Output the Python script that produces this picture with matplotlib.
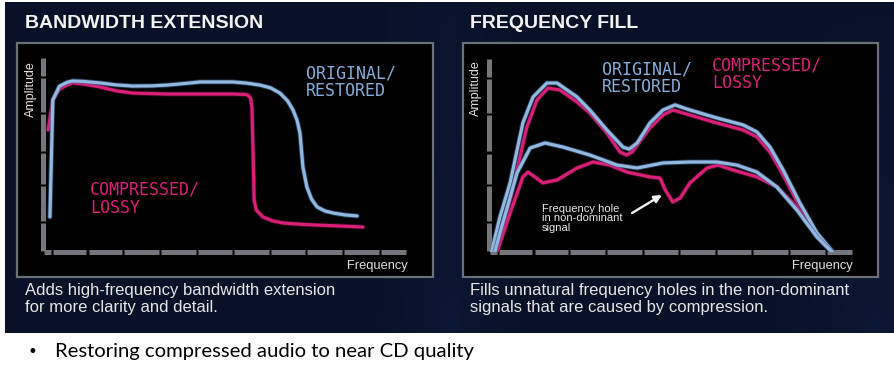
import matplotlib
matplotlib.use("Agg")
import matplotlib.pyplot as plt
import numpy as np
from matplotlib.patches import Rectangle
from matplotlib.colors import LinearSegmentedColormap
import matplotlib.patheffects as pe

# ---------------- data ----------------
# Left panel: bandwidth extension (x: frequency bands 0..10, y: amplitude 0..1)
bw_orig_x = [0.19, 0.27, 0.45, 0.66, 0.80, 1.10, 1.57, 2.00, 2.47, 3.00, 3.41, 4.00, 4.31, 5.22, 5.60, 5.96, 6.25, 6.51, 6.72, 6.87, 6.98, 7.06, 7.14, 7.25, 7.38, 7.53, 7.75, 7.97, 8.30, 8.63]
bw_orig_y = [0.18, 0.78, 0.85, 0.87, 0.877, 0.875, 0.867, 0.857, 0.851, 0.852, 0.856, 0.866, 0.872, 0.872, 0.866, 0.856, 0.842, 0.815, 0.775, 0.728, 0.675, 0.61, 0.436, 0.333, 0.27, 0.231, 0.21, 0.20, 0.19, 0.185]
bw_lossy_x = [0.14, 0.27, 0.45, 0.66, 0.80, 1.10, 1.57, 2.03, 2.47, 3.41, 4.31, 5.22, 5.55, 5.63, 5.70, 5.74, 5.77, 5.80, 5.86, 6.04, 6.30, 6.59, 7.00, 7.53, 8.20, 8.79]
bw_lossy_y = [0.626, 0.78, 0.835, 0.856, 0.867, 0.862, 0.846, 0.826, 0.815, 0.81, 0.81, 0.81, 0.808, 0.805, 0.79, 0.744, 0.523, 0.267, 0.215, 0.18, 0.16, 0.149, 0.143, 0.138, 0.133, 0.128]

# Right panel: frequency fill
ff_orig_dom_x = [0.07, 0.30, 0.58, 0.93, 1.21, 1.59, 1.87, 2.42, 2.77, 3.24, 3.68, 3.85, 4.07, 4.42, 4.78, 5.11, 5.52, 6.26, 6.98, 7.36, 7.72, 8.08, 8.54, 9.01, 9.45]
ff_orig_dom_y = [0.0, 0.18, 0.356, 0.665, 0.799, 0.871, 0.871, 0.799, 0.732, 0.629, 0.541, 0.530, 0.562, 0.665, 0.732, 0.758, 0.732, 0.691, 0.655, 0.619, 0.541, 0.423, 0.253, 0.098, 0.0]
ff_lossy_dom_x = [0.22, 0.45, 0.66, 1.04, 1.32, 1.62, 1.95, 2.42, 2.77, 3.24, 3.60, 3.78, 3.93, 4.42, 4.78, 5.05, 5.52, 6.26, 6.98, 7.36, 7.72, 8.08, 8.54, 9.01, 9.42]
ff_lossy_dom_y = [0.0, 0.17, 0.335, 0.644, 0.784, 0.845, 0.835, 0.773, 0.716, 0.613, 0.515, 0.500, 0.515, 0.639, 0.706, 0.732, 0.706, 0.665, 0.629, 0.593, 0.515, 0.397, 0.232, 0.088, 0.0]
ff_orig_sub_x = [0.16, 0.30, 0.77, 1.13, 1.54, 2.03, 2.77, 3.52, 4.07, 4.78, 5.52, 6.26, 6.81, 7.36, 7.91, 8.46, 9.01, 9.42]
ff_orig_sub_y = [0.0, 0.098, 0.407, 0.536, 0.562, 0.541, 0.5, 0.448, 0.433, 0.459, 0.464, 0.464, 0.448, 0.412, 0.335, 0.216, 0.077, 0.0]
ff_lossy_sub_x = [0.22, 0.58, 0.93, 1.07, 1.26, 1.48, 1.87, 2.42, 2.86, 3.32, 3.79, 4.42, 4.70, 4.84, 5.05, 5.25, 5.52, 5.99, 6.29, 6.70, 7.36, 7.91, 8.46, 9.01, 9.42]
ff_lossy_sub_y = [0.0, 0.201, 0.387, 0.412, 0.387, 0.356, 0.371, 0.433, 0.464, 0.448, 0.412, 0.387, 0.381, 0.320, 0.258, 0.278, 0.356, 0.433, 0.448, 0.423, 0.387, 0.335, 0.232, 0.088, 0.0]

x_tick_bounds = [0.0, 0.25, 1.22, 2.20, 3.21, 4.23, 5.22, 6.23, 7.22, 8.24, 9.26, 10.0]
y_tick_bounds = [0.0, 0.154, 0.344, 0.513, 0.713, 0.897, 1.0]

titles = ["BANDWIDTH EXTENSION", "FREQUENCY FILL"]
captions = ["Adds high-frequency bandwidth extension\nfor more clarity and detail.",
            "Fills unnatural frequency holes in the non-dominant\nsignals that are caused by compression."]
bullet_text = "Restoring compressed audio to near CD quality"

# ---------------- style ----------------
W, H = 894, 375
BLUE = "#93b8df"
BLUE_TXT = "#86acd9"
MAG = "#d91f78"
GRAY = "#76777d"
NAVY = "#0b1631"

fig = plt.figure(figsize=(W / 100, H / 100), dpi=100)
fig.patch.set_facecolor("white")

bg = fig.add_axes([0, 0, 1, 1])
bg.set_xlim(0, W)
bg.set_ylim(H, 0)
bg.axis("off")

# navy backdrop with soft gradient
gx = np.linspace(0, 1, 300)
gy = np.linspace(0, 1, 120)
GX, GY = np.meshgrid(gx, gy)
field = 0.5 + 0.25 * np.exp(-((GX - 0.5) ** 2) / 0.002) * (0.5 + 0.5 * GY) \
        + 0.25 * np.exp(-((GX - 0.98) ** 2) / 0.004) * GY
cmap = LinearSegmentedColormap.from_list("navy", ["#070f22", NAVY, "#1c3a86"])
bg.imshow(field, extent=(5, W, 333, 2), cmap=cmap, vmin=0.35, vmax=1.1,
          aspect="auto", interpolation="bicubic", zorder=0)

# panel boxes
boxes = [(17, 43, 416, 234), (463, 43, 415, 234)]
for (bx, by, bw, bh) in boxes:
    bg.add_patch(Rectangle((bx, by), bw, bh, facecolor="black",
                           edgecolor="#6c707a", linewidth=1.6, zorder=2))

# titles and captions
for i, (tx, ty) in enumerate([(25, 24), (470, 24)]):
    bg.text(tx, ty, titles[i], color="#f2f2f2", fontsize=14, fontweight="bold",
            family="Liberation Sans", va="center", ha="left", zorder=3)
for i, (tx, ty) in enumerate([(25, 283), (470, 283)]):
    bg.text(tx, ty, captions[i], color="#e6e6e6", fontsize=12,
            family="Liberation Sans", va="top", ha="left", linespacing=1.18, zorder=3)

# bullet line
bg.text(28, 352, "\u2022", color="black", fontsize=12, family="DejaVu Sans",
        va="center", ha="left")
bg.text(55, 352, bullet_text, color="black", fontsize=14.6, family="Lato",
        va="center", ha="left")

# labels
mono = "DejaVu Sans Mono"
bg.text(306, 64, "ORIGINAL/\nRESTORED", color=BLUE_TXT, fontsize=12, family=mono,
        va="top", ha="left", linespacing=1.0, zorder=3)
bg.text(90, 181, "COMPRESSED/\nLOSSY", color=MAG, fontsize=12, family=mono,
        va="top", ha="left", linespacing=1.0, zorder=3)
bg.text(602, 60, "ORIGINAL/\nRESTORED", color=BLUE_TXT, fontsize=12, family=mono,
        va="top", ha="left", linespacing=1.0, zorder=3)
bg.text(712, 56, "COMPRESSED/\nLOSSY", color=MAG, fontsize=12, family=mono,
        va="top", ha="left", linespacing=1.0, zorder=3)

for (lab_amp, lab_freq) in [((31, 89), (408, 266)), ((476, 88), (853, 266))]:
    bg.text(*lab_amp, "Amplitude", color="#e0e0e0", fontsize=9, rotation=90,
            family="Liberation Sans", va="center", ha="center", zorder=3)
    bg.text(*lab_freq, "Frequency", color="#e0e0e0", fontsize=9.3,
            family="Liberation Sans", va="center", ha="right", zorder=3)


def make_axes(px_left, px_top):
    ax = fig.add_axes([px_left / W, (H - 252) / H, 364 / W, (252 - px_top) / H])
    ax.set_xlim(0, 10)
    ax.set_ylim(0, 1)
    ax.axis("off")
    ax.patch.set_alpha(0)
    gap = 0.03
    for a, b in zip(x_tick_bounds[:-1], x_tick_bounds[1:]):
        ax.plot([a + gap, b - gap], [0, 0], color=GRAY, lw=3.6,
                solid_capstyle="butt", clip_on=False, zorder=1)
    for a, b in zip(y_tick_bounds[:-1], y_tick_bounds[1:]):
        ax.plot([0, 0], [a + 0.006, b - 0.006], color=GRAY, lw=3.6,
                solid_capstyle="butt", clip_on=False, zorder=1)
    return ax


glow_b = [pe.Stroke(linewidth=3.6, foreground="#3d5f8a", alpha=0.6), pe.Normal()]
glow_m = [pe.Stroke(linewidth=3.6, foreground="#5c0f33", alpha=0.6), pe.Normal()]
kw = dict(lw=2.3, solid_joinstyle="round", solid_capstyle="round")

axL = make_axes(43, 57)
axL.plot(bw_lossy_x, bw_lossy_y, color=MAG, zorder=2, path_effects=glow_m, **kw)
axL.plot(bw_orig_x, bw_orig_y, color=BLUE, zorder=3, path_effects=glow_b, **kw)

axR = make_axes(489, 58)
axR.plot(ff_lossy_dom_x, ff_lossy_dom_y, color=MAG, zorder=2, path_effects=glow_m, **kw)
axR.plot(ff_orig_dom_x, ff_orig_dom_y, color=BLUE, zorder=3, path_effects=glow_b, **kw)
axR.plot(ff_lossy_sub_x, ff_lossy_sub_y, color=MAG, zorder=2, path_effects=glow_m, **kw)
axR.plot(ff_orig_sub_x, ff_orig_sub_y, color=BLUE, zorder=3, path_effects=glow_b, **kw)

axR.text(1.46, 0.25, "Frequency hole\nin non-dominant\nsignal", color="#e8e8e8",
         fontsize=8, family="Liberation Sans", va="top", ha="left",
         linespacing=0.98, zorder=4)
axR.annotate("", xy=(4.75, 0.294), xytext=(3.93, 0.201),
             arrowprops=dict(arrowstyle="-|>", color="#f0f0f0", lw=1.7,
                             mutation_scale=11, shrinkA=0, shrinkB=0), zorder=4)

fig.savefig("out.png", dpi=100, facecolor=fig.get_facecolor())
